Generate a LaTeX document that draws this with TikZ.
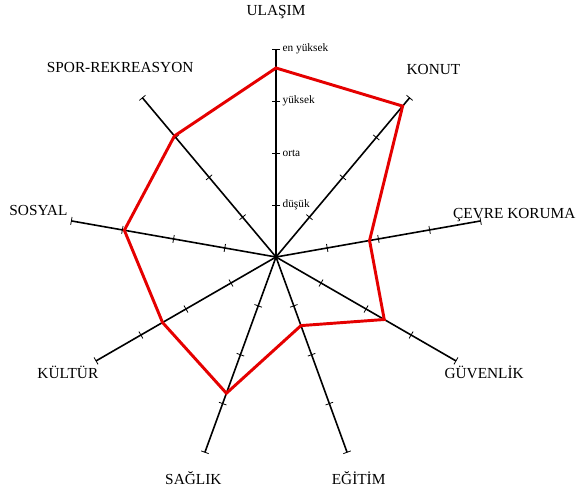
\documentclass[tikz,border=0pt]{standalone}
\usepackage{fontspec}
\setmainfont{Liberation Serif}
\usetikzlibrary{decorations.markings}

\begin{document}
\begin{tikzpicture}[x=0.75pt, y=0.75pt,
	axis/.style={black, line width=1.2pt, postaction=decorate, decoration={markings,
		mark=at position 0.25 with {\draw[tick] (0,-4) -- (0,4);},
		mark=at position 0.5 with {\draw[tick] (0,-4) -- (0,4);},
		mark=at position 0.75 with {\draw[tick] (0,-4) -- (0,4);},
		mark=at position 0.999 with {\draw[tick] (0,-4) -- (0,4);}}},
	tick/.style={black, line width=0.6pt},
	score/.style={red!90!black, line width=2.2pt, line join=miter},
	title/.style={font=\fontsize{11.5}{13}\selectfont},
	level/.style={font=\fontsize{8.5}{10}\selectfont, anchor=west, inner sep=1pt}]
	\useasboundingbox (-276,-236) rectangle (301,257);

	\coordinate (O) at (0,0);
	\coordinate (a1) at (90:208);
	\coordinate (a2) at (50:208);
	\coordinate (a3) at (10:208);
	\coordinate (a4) at (-30:208);
	\coordinate (a5) at (-70:208);
	\coordinate (a6) at (-110:208);
	\coordinate (a7) at (-150:208);
	\coordinate (a8) at (170:208);
	\coordinate (a9) at (130:208);

	\draw[axis] (O) -- (a1);
	\draw[axis] (O) -- (a2);
	\draw[axis] (O) -- (a3);
	\draw[axis] (O) -- (a4);
	\draw[axis] (O) -- (a5);
	\draw[axis] (O) -- (a6);
	\draw[axis] (O) -- (a7);
	\draw[axis] (O) -- (a8);
	\draw[axis] (O) -- (a9);

	\node[level] (dusuk) at (5,52) {düşük};
	\node[level] (orta) at (5,104) {orta};
	\node[level] (yuksek) at (5,156) {yüksek};
	\node[level] (enyuksek) at (5,208) {en yüksek};

	\coordinate (v1) at (90:189);
	\coordinate (v2) at (50:197);
	\coordinate (v3) at (10:95);
	\coordinate (v4) at (-30:125);
	\coordinate (v5) at (-70:73);
	\coordinate (v6) at (-110:145);
	\coordinate (v7) at (-150:131);
	\coordinate (v8) at (170:154);
	\coordinate (v9) at (130:158);
	\draw[score] (v1) -- (v2) -- (v3) -- (v4) -- (v5) -- (v6) -- (v7) -- (v8) -- (v9) -- cycle;

	\node[title] (ulasim) at (90:245) {ULAŞIM};
	\node[title] (konut) at (50:245) {KONUT};
	\node[title] (cevre) at (10:242) {ÇEVRE KORUMA};
	\node[title] (guvenlik) at (-29:238) {GÜVENLİK};
	\node[title] (egitim) at (-69.5:236) {EĞİTİM};
	\node[title] (saglik) at (-110.5:236) {SAĞLIK};
	\node[title] (kultur) at (-151:238) {KÜLTÜR};
	\node[title] (sosyal) at (169:242) {SOSYAL};
	\node[title] (spor) at (129.5:245) {SPOR-REKREASYON};
\end{tikzpicture}
\end{document}
